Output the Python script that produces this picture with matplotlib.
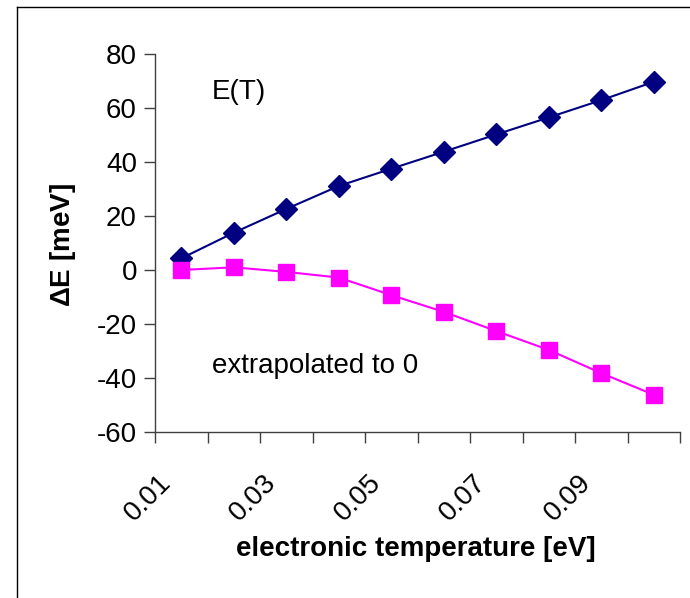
import numpy as np
import matplotlib.pyplot as plt
from matplotlib.lines import Line2D
from matplotlib.transforms import ScaledTranslation

plt.rcParams['font.family'] = ['Liberation Sans', 'DejaVu Sans']
plt.rcParams['axes.unicode_minus'] = False

temps = ['0.01', '0.02', '0.03', '0.04', '0.05', '0.06', '0.07', '0.08', '0.09', '0.10']
e_t = [4.3, 13.8, 22.6, 31.1, 37.5, 43.8, 50.2, 56.5, 62.9, 69.7]
e_0 = [0.0, 1.0, -0.7, -2.8, -9.3, -15.5, -22.6, -29.6, -38.2, -46.2]

fig = plt.figure(figsize=(6.9, 5.98), dpi=100)
ax = fig.add_axes([155 / 690, 1 - 432 / 598, 525 / 690, 378 / 598])

x = np.arange(len(temps))
ax.plot(x, e_t, color='#000080', lw=1.5, marker='D', ms=11, zorder=3)
ax.plot(x, e_0, color='#FF00FF', lw=1.5, marker='s', ms=11, zorder=3)

ax.set_xlim(-0.5, len(temps) - 0.5)
ax.set_ylim(-60, 80)
ax.set_yticks(np.arange(-60, 81, 20))

# category axis: ticks between categories, labels on every other one
ax.set_xticks(np.arange(-0.5, len(temps), 1.0), minor=True)
ax.set_xticks(x[::2])
ax.set_xticklabels(temps[::2], rotation=45, ha='right', va='center', rotation_mode='anchor')
ax.tick_params(axis='x', which='major', length=0, pad=34, labelsize=20)
ax.tick_params(axis='x', which='minor', length=8, width=1, color='#404040', direction='out')
ax.tick_params(axis='y', length=8, width=1, color='#404040', labelsize=20, pad=5)
for lab in ax.get_xticklabels():
    lab.set_transform(lab.get_transform() + ScaledTranslation(-14 / 100, 0, fig.dpi_scale_trans))

for s in ['top', 'right']:
    ax.spines[s].set_visible(False)
for s in ['left', 'bottom']:
    ax.spines[s].set_color('#404040')
    ax.spines[s].set_linewidth(1)

ax.set_ylabel('$\\mathregular{\\Delta}$E [meV]', fontsize=20, fontweight='bold')
ax.yaxis.set_label_coords(-0.147, 0.495)
ax.set_xlabel('electronic temperature [eV]', fontsize=20, fontweight='bold')
ax.xaxis.set_label_coords(0.497, -0.275)

ax.text(0.59, 66, 'E(T)', fontsize=20, va='center')
ax.text(0.59, -35.6, 'extrapolated to 0', fontsize=20, va='center')

# outer frame (only top and left visible in the crop)
fig.add_artist(Line2D([17 / 690, 1], [1 - 7 / 598, 1 - 7 / 598], color='black', lw=1))
fig.add_artist(Line2D([17 / 690, 17 / 690], [0, 1 - 7 / 598], color='black', lw=1))

fig.savefig('out.png', dpi=100)
